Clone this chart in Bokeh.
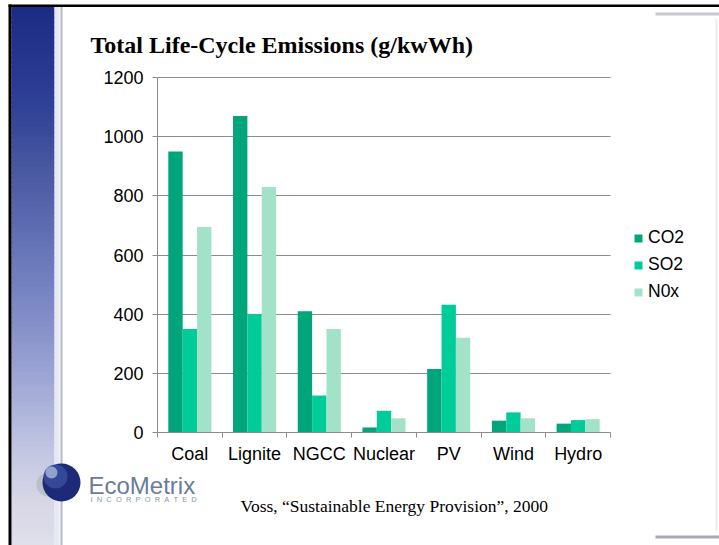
from bokeh.plotting import figure
from bokeh.models import Range1d, FixedTicker, Legend, LegendItem, Label, BoxAnnotation
from bokeh.embed import file_html
from bokeh.resources import INLINE

# ---------------- data ----------------
categories = ["Coal", "Lignite", "NGCC", "Nuclear", "PV", "Wind", "Hydro"]
series_names = ["CO2", "SO2", "N0x"]
co2 = [950, 1070, 410, 17, 215, 40, 30]
so2 = [350, 400, 125, 73, 432, 68, 42]
nox = [695, 830, 350, 48, 320, 48, 45]
y_ticks = [0, 200, 400, 600, 800, 1000, 1200]
series_colors = ["#00a67a", "#00cc99", "#a2e2c8"]

title_text = "Total Life-Cycle Emissions (g/kwWh)"
source_text = "Voss, \u201cSustainable Energy Provision\u201d, 2000"

# ---------------- layout (pixels) ----------------
W, H = 719, 545
FL, FR, FT, FB = 157, 610, 77, 432      # chart area inside the canvas
n = len(categories)
ymax = y_ticks[-1]
sx = (FR - FL) / n
sy = (FB - FT) / ymax
x_range = Range1d(-FL / sx, n + (W - FR) / sx)
y_range = Range1d(-(H - FB) / sy, ymax + FT / sy)

p = figure(width=W, height=H, x_range=x_range, y_range=y_range,
           output_backend="svg", toolbar_location=None, min_border=0)
p.title.visible = False
p.outline_line_color = None
p.background_fill_color = "white"
p.border_fill_color = "white"

centers = [i + 0.5 for i in range(n)]
bw = 0.222
items = []
for k, (vals, name, col) in enumerate(zip([co2, so2, nox], series_names, series_colors)):
    xs = [c + (k - 1) * bw for c in centers]
    r = p.vbar(x=xs, top=vals, bottom=0, width=bw, fill_color=col, line_color=None)
    items.append(LegendItem(label=name, renderers=[r]))

grid_col = "#8c8c8c"

# x axis: labels at centres, ticks at category boundaries
xa = p.xaxis[0]
xa.fixed_location = 0
xa.bounds = (0, n)
xa.ticker = FixedTicker(ticks=centers, minor_ticks=list(range(n + 1)))
xa.major_label_overrides = {c: lab for c, lab in zip(centers, categories)}
xa.axis_line_color = grid_col
xa.major_tick_line_color = None
xa.major_tick_out = 0
xa.major_tick_in = 0
xa.minor_tick_line_color = grid_col
xa.minor_tick_out = 5
xa.minor_tick_in = 0
xa.major_label_standoff = 6
xa.major_label_text_font = "Liberation Sans"
xa.major_label_text_font_size = "18px"
xa.major_label_text_color = "black"

ya = p.yaxis[0]
ya.fixed_location = 0
ya.bounds = (0, ymax)
ya.ticker = FixedTicker(ticks=y_ticks)
ya.axis_line_color = grid_col
ya.major_tick_line_color = grid_col
ya.major_tick_out = 5
ya.major_tick_in = 0
ya.minor_tick_line_color = None
ya.major_label_standoff = 9
ya.major_label_text_font = "Liberation Sans"
ya.major_label_text_font_size = "18px"
ya.major_label_text_color = "black"

p.xgrid.visible = False
p.ygrid.ticker = FixedTicker(ticks=y_ticks)
p.ygrid.cross_bounds = (0, n)
p.ygrid.grid_line_color = grid_col
p.ygrid.grid_line_width = 1

legend = Legend(items=items, location=(633, H - 302), padding=0, margin=0,
                border_line_color=None, background_fill_alpha=0,
                glyph_width=10, glyph_height=10, label_standoff=5,
                label_height=20, spacing=6,
                label_text_font="Liberation Sans", label_text_font_size="17.5px",
                label_text_color="black")
p.add_layout(legend, "center")

# ---------------- slide decorations ----------------
def box(l, r, t, b, color, alpha=1.0, radius=0):
    ba = BoxAnnotation(left=l, right=r, top=t, bottom=b,
                       left_units="canvas", right_units="canvas",
                       top_units="canvas", bottom_units="canvas",
                       fill_color=color, fill_alpha=alpha, line_alpha=0,
                       border_radius=radius, editable=False)
    p.add_layout(ba)

stops = [(6, (27, 42, 132)), (100, (46, 63, 150)), (160, (69, 85, 159)),
         (220, (91, 106, 176)), (280, (114, 128, 192)), (340, (140, 150, 204)),
         (400, (168, 176, 216)), (450, (194, 198, 226)), (500, (214, 214, 230)),
         (545, (224, 224, 234))]

def grad(y):
    for (y0, c0), (y1, c1) in zip(stops[:-1], stops[1:]):
        if y0 <= y <= y1:
            t = (y - y0) / (y1 - y0)
            return "#%02x%02x%02x" % tuple(int(round(a + (b - a) * t)) for a, b in zip(c0, c1))
    return "#%02x%02x%02x" % stops[-1][1]

step = 5
for y in range(6, H, step):
    box(11, 54, y, min(y + step + 2, H), grad(y + step / 2))
box(54, 59, 6, H, "#e6e9f4")
box(60, 62, 6, H, "#b6bac8")
box(8, 11, 4, H, "black")
box(8, W, 4, 6.5, "black")
box(655, W, 12, 15, "#c8c8d0")
box(655, W, 535, 538, "#a8a8b8")
box(715, 717, 18, 530, "#ececf2")

# logo sphere
box(36, 62, 472, 496, "#a9b8b0", alpha=0.6, radius=12)
box(42, 80, 463, 501, "#1c2a78", radius=19)
box(43, 67, 464, 488, "#3a4c9c", alpha=0.85, radius=12)
box(45, 57, 466, 478, "#a8b8d8", alpha=0.8, radius=6)

p.add_layout(Label(x=90, y=44, x_units="canvas", y_units="canvas", text=title_text,
                   text_font="Liberation Serif", text_font_style="bold",
                   text_font_size="24px", text_color="black",
                   text_baseline="alphabetic", text_align="left"))
p.add_layout(Label(x=240, y=505, x_units="canvas", y_units="canvas", text=source_text,
                   text_font="Liberation Serif", text_font_size="17.5px",
                   text_color="black", text_baseline="alphabetic", text_align="left"))
p.add_layout(Label(x=88, y=485, x_units="canvas", y_units="canvas", text="EcoMetrix",
                   text_font="Liberation Sans", text_font_size="24px",
                   text_color="#6b7b9b", text_baseline="alphabetic", text_align="left"))
p.add_layout(Label(x=90, y=499, x_units="canvas", y_units="canvas",
                   text="\u00a0\u00a0".join("INCORPORATED"),
                   text_font="Liberation Sans", text_font_size="7.5px",
                   text_color="#8a96aa", text_baseline="alphabetic", text_align="left"))

open("out.html", "w").write(file_html(p, INLINE))
